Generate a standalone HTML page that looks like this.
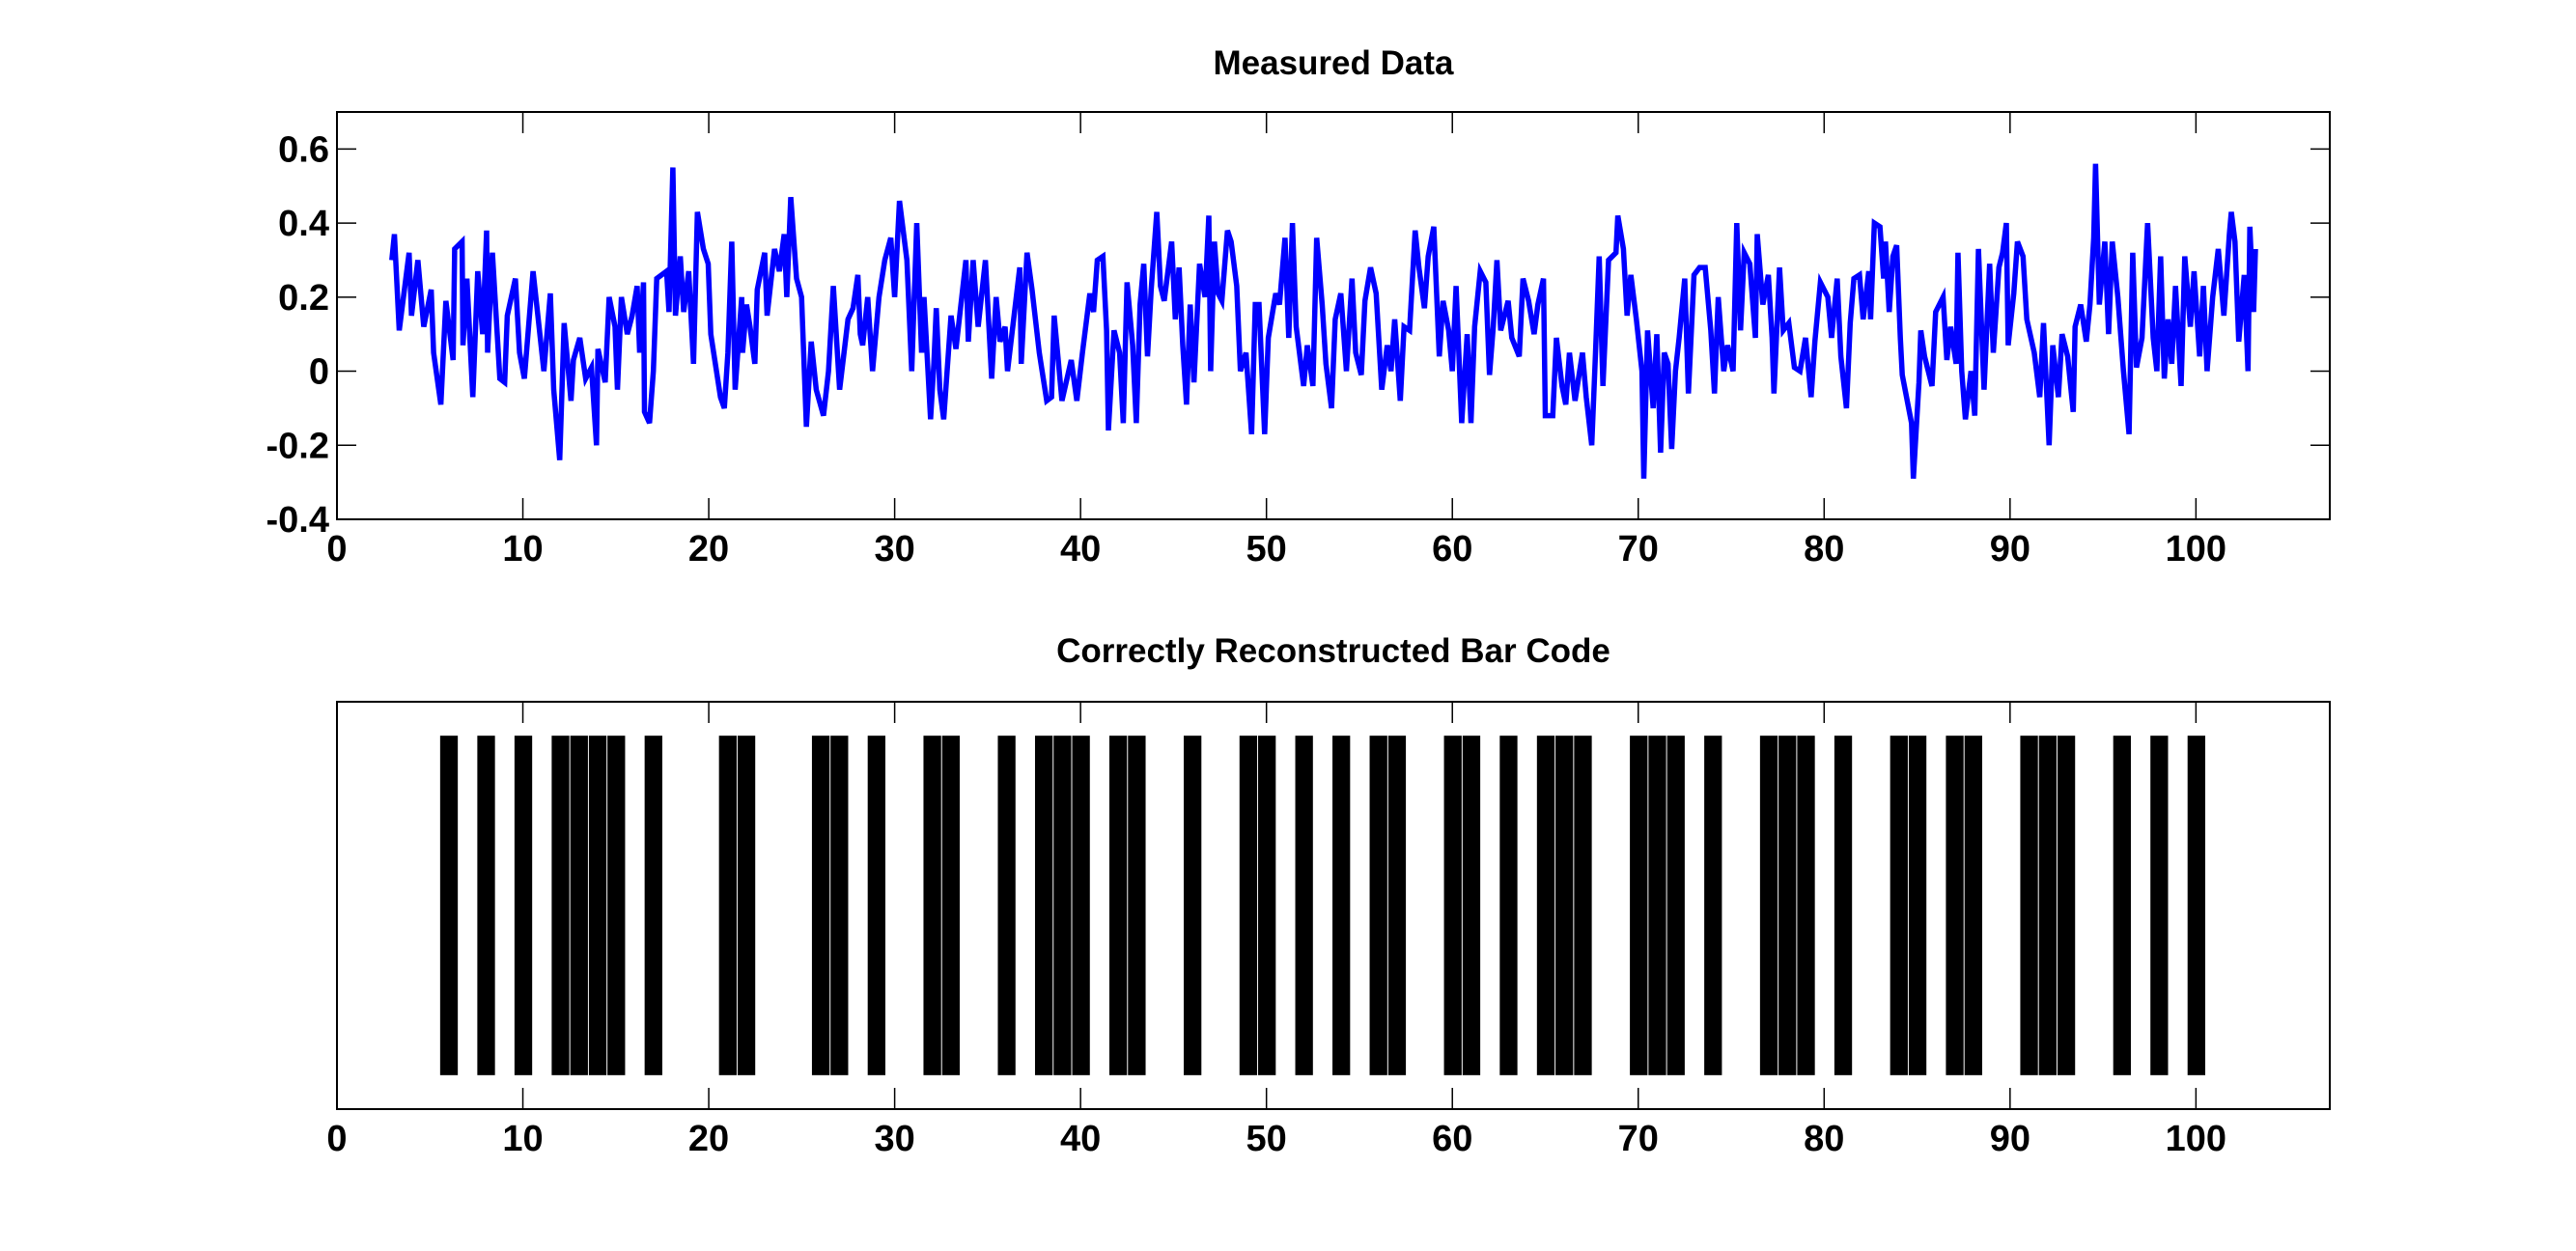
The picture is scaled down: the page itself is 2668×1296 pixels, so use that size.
<!DOCTYPE html>
<html><head><meta charset="utf-8"><style>
html,body{margin:0;padding:0;background:#fff;}
svg text{font-family:"Liberation Sans",Arial,sans-serif;font-weight:bold;fill:#000;}
</style></head><body>
<svg id="fig" width="2668" height="1291" viewBox="0 0 2668 1291" xmlns="http://www.w3.org/2000/svg">
<rect width="2668" height="1291" fill="#fff"/>
<g id="topPlot"></g>
<g id="botPlot"></g>
</svg>
<script>
const sigX=[2.95,3.09,3.35,3.88,4.01,4.35,4.67,5.07,5.2,5.59,5.86,6.25,6.33,6.73,6.78,6.99,7.31,7.57,7.84,8.05,8.1,8.36,8.76,9.02,9.16,9.6,9.82,10.08,10.55,11.13,11.48,11.66,11.98,12.22,12.59,12.72,13.06,13.38,13.69,13.96,14.04,14.43,14.64,14.96,15.09,15.3,15.62,15.88,16.15,16.28,16.49,16.54,16.81,17.02,17.2,17.73,17.86,18.07,18.21,18.47,18.65,18.92,19.18,19.39,19.71,19.97,20.11,20.63,20.84,21.03,21.24,21.42,21.77,21.82,22.03,22.22,22.48,22.61,23.01,23.14,23.54,23.8,24.06,24.2,24.41,24.72,24.99,25.25,25.51,25.78,26.17,26.44,26.7,27.04,27.49,27.76,28.02,28.15,28.28,28.55,28.81,29.16,29.47,29.79,30.0,30.26,30.66,30.92,31.19,31.45,31.58,31.93,32.11,32.24,32.43,32.64,33.03,33.3,33.83,33.96,34.22,34.49,34.88,35.22,35.46,35.67,35.94,36.07,36.73,36.81,37.12,37.39,37.78,38.18,38.44,38.58,
39.0,39.5,39.8,40.1,40.5,40.7,40.9,41.2,41.4,41.5,41.8,42.1,42.3,42.5,42.8,43.0,43.2,43.4,43.6,43.8,44.1,44.3,44.5,44.9,45.1,45.3,45.5,45.7,45.9,46.1,46.4,46.7,46.9,47.0,47.2,47.4,47.6,47.9,48.1,48.4,48.6,48.9,49.2,49.4,49.6,49.9,50.1,50.5,50.7,51.0,51.2,51.4,51.6,52.0,52.2,52.5,52.7,53.0,53.2,53.5,53.7,54.0,54.3,54.6,54.8,55.1,55.3,
55.6,55.9,56.2,56.5,56.7,56.9,57.2,57.4,57.7,58.0,58.2,58.5,58.7,59.0,59.3,59.5,59.8,60.0,60.2,60.5,60.8,61.0,61.2,61.5,61.8,62.0,62.2,62.4,62.6,63.0,63.2,63.6,63.8,64.1,64.4,64.6,64.9,65.0,65.4,65.6,65.9,66.1,66.3,66.6,67.0,67.2,67.5,67.7,67.9,68.1,68.4,68.8,68.9,69.2,69.4,69.6,69.9,70.2,70.3,70.5,70.8,71.0,71.2,71.4,71.6,71.8,72.0,72.2,72.5,72.7,73.0,73.3,73.6,73.9,74.1,74.3,74.6,74.8,75.1,75.3,75.5,75.7,76.0,76.3,76.4,76.7,77.0,77.2,77.3,77.6,77.8,78.1,78.4,78.7,79.0,79.3,79.5,79.8,80.2,80.4,80.7,80.9,81.2,81.4,81.6,
81.9,82.1,82.4,82.5,82.7,83.0,83.2,83.3,83.5,83.7,83.9,84.1,84.2,84.7,84.8,85.1,85.2,85.4,85.8,86.0,86.4,86.6,86.8,87.1,87.2,87.4,87.6,87.9,88.1,88.3,88.6,88.9,89.1,89.4,89.6,89.8,89.9,90.2,90.4,90.7,90.9,91.3,91.6,91.8,92.1,92.3,92.6,92.8,93.1,93.4,93.5,93.8,94.1,94.3,94.5,94.6,94.8,95.1,95.3,95.5,95.8,96.1,96.4,96.6,96.8,97.1,97.4,97.7,97.9,98.1,98.3,98.5,98.7,98.9,99.2,99.4,99.7,99.9,100.2,100.4,100.6,100.9,101.2,101.5,101.8,101.9,102.1,102.3,102.6,102.8,102.9,103.1,103.2];
const sigY=[0.30,0.37,0.11,0.32,0.15,0.30,0.12,0.22,0.05,-0.09,0.19,0.03,0.33,0.35,0.07,0.25,-0.07,0.27,0.10,0.38,0.05,0.32,-0.02,-0.03,0.15,0.25,0.05,-0.02,0.27,0.00,0.21,-0.05,-0.24,0.13,-0.08,0.03,0.09,-0.02,0.01,-0.20,0.06,-0.03,0.20,0.12,-0.05,0.20,0.10,0.15,0.23,0.05,0.24,-0.11,-0.14,0.00,0.25,0.27,0.16,0.55,0.15,0.31,0.16,0.27,0.02,0.43,0.33,0.29,0.10,-0.07,-0.10,0.05,0.35,-0.05,0.20,0.05,0.18,0.12,0.02,0.22,0.32,0.15,0.33,0.27,0.37,0.20,0.47,0.25,0.20,-0.15,0.08,-0.05,-0.12,0.00,0.23,-0.05,0.14,0.17,0.26,0.10,0.07,0.20,0.00,0.20,0.30,0.36,0.20,0.46,0.30,0.00,0.40,0.05,0.20,-0.13,0.02,0.17,-0.05,-0.13,0.15,0.06,0.30,0.08,0.30,0.12,0.30,-0.02,0.20,0.08,0.12,0.00,0.28,0.02,0.32,0.22,0.05,-0.08,-0.07,0.15,
-0.08,0.03,-0.08,0.05,0.21,0.16,0.30,0.31,0.11,-0.16,0.11,0.05,-0.14,0.24,0.07,-0.14,0.18,0.29,0.04,0.22,0.43,0.23,0.19,0.35,0.14,0.28,0.07,-0.09,0.18,-0.03,0.29,0.20,0.42,0.00,0.35,0.21,0.19,0.38,0.35,0.23,0.00,0.05,-0.17,0.18,0.18,-0.17,0.09,0.21,0.18,0.36,0.09,0.40,0.12,-0.04,0.07,-0.04,0.36,0.18,0.02,-0.10,0.14,0.21,0.00,0.25,0.05,-0.01,0.19,
0.28,0.21,-0.05,0.07,0.00,0.14,-0.08,0.12,0.11,0.38,0.28,0.17,0.31,0.39,0.04,0.19,0.11,0.00,0.23,-0.14,0.10,-0.14,0.12,0.27,0.24,-0.01,0.12,0.30,0.11,0.19,0.09,0.04,0.25,0.19,0.10,0.18,0.25,-0.12,-0.12,0.09,-0.04,-0.09,0.05,-0.08,0.05,-0.07,-0.20,0.05,0.31,-0.04,0.30,0.32,0.42,0.33,0.15,0.26,0.14,0.00,-0.29,0.11,-0.10,0.10,-0.22,0.05,0.02,-0.21,0.00,0.09,0.25,-0.06,0.26,0.28,0.28,0.11,-0.06,0.20,0.00,0.07,0.00,0.40,0.11,0.32,0.29,0.09,0.37,0.18,0.26,0.09,-0.06,0.28,0.11,0.13,0.01,0.00,0.09,-0.07,0.08,0.24,0.20,0.09,0.25,0.04,-0.10,0.13,0.25,
0.26,0.14,0.27,0.14,0.40,0.39,0.25,0.35,0.16,0.31,0.34,0.09,-0.01,-0.14,-0.29,-0.03,0.11,0.04,-0.04,0.16,0.20,0.03,0.12,0.02,0.32,0.00,-0.13,0.00,-0.12,0.33,-0.05,0.29,0.05,0.28,0.32,0.40,0.07,0.21,0.35,0.31,0.14,0.05,-0.07,0.13,-0.20,0.07,-0.07,0.10,0.04,-0.11,0.12,0.18,0.08,0.18,0.36,0.56,0.18,0.35,0.10,0.35,0.20,0.00,-0.17,0.32,0.01,0.09,0.40,0.09,0.00,0.31,-0.02,0.14,0.02,0.23,-0.04,0.31,0.12,0.27,0.04,0.23,0.00,0.20,0.33,0.15,0.37,0.43,0.35,0.08,0.26,0.00,0.39,0.16,0.33];
const barPos=[6,8,10,12,13,14,15,17,21,22,26,27,29,32,33,36,38,39,40,42,43,46,49,50,52,54,56,57,60,61,63,65,66,67,70,71,72,74,77,78,79,81,84,85,87,88,91,92,93,96,98,100];
const barVal=[1,1,1,1,1,1,1,1,1,1,1,1,1,1,1,1,1,1,1,1,1,1,1,1,1,1,1,1,1,1,1,1,1,1,1,1,1,1,1,1,1,1,1,1,1,1,1,1,1,1,1,1];
const xTicks=[0,10,20,30,40,50,60,70,80,90,100];
const yTicksTop=[-0.4,-0.2,0,0.2,0.4,0.6];
const yTickLabels=["-0.4","-0.2","0","0.2","0.4","0.6"];

const NS="http://www.w3.org/2000/svg";
const PL=349,PR=2413,XMIN=0,XMAX=107.2;
const sx=v=>PL+(v-XMIN)/(XMAX-XMIN)*(PR-PL);
const T1=116,B1=538,Y1MIN=-0.4,Y1MAX=0.7;
const sy1=v=>B1-(v-Y1MIN)/(Y1MAX-Y1MIN)*(B1-T1);
const T2=727,B2=1149,Y2MIN=-0.1,Y2MAX=1.1;
const sy2=v=>B2-(v-Y2MIN)/(Y2MAX-Y2MIN)*(B2-T2);
function mk(tag,attrs,parent){const e=document.createElementNS(NS,tag);for(const k in attrs)e.setAttribute(k,attrs[k]);parent.appendChild(e);return e;}
const gTop=document.getElementById('topPlot'),gBot=document.getElementById('botPlot');

let d='';
const nPts=Math.min(sigX.length,sigY.length);
for(let i=0;i<nPts;i++){d+=(i?'L':'M')+sx(sigX[i]).toFixed(1)+' '+sy1(sigY[i]).toFixed(1);}
const line=mk('path',{d:d,fill:'none',stroke:'#0000ff','stroke-width':5.5,'stroke-linejoin':'miter'},gTop);



const barG=mk('g',{},gBot);


for(let i=0;i<barPos.length;i++){
  const x0=sx(barPos[i]-0.45),x1=sx(barPos[i]+0.5);
  const r=mk('rect',{x:x0,y:sy2(barVal[i]),width:x1-x0,height:sy2(0)-sy2(barVal[i]),fill:'#000'},barG);
  
  
}

function axes(g,T,B,yt,sy,name){
  const box=mk('rect',{x:PL,y:T,width:PR-PL,height:B-T,fill:'none',stroke:'#000','stroke-width':2},g);
  
  
  for(const t of xTicks){
    const x=sx(t);
    mk('line',{x1:x,y1:B,x2:x,y2:B-22,stroke:'#000','stroke-width':1.5},g);
    mk('line',{x1:x,y1:T,x2:x,y2:T+22,stroke:'#000','stroke-width':1.5},g);
    const tx=mk('text',{x:x,y:B+43,'text-anchor':'middle','font-size':38},g);
    tx.textContent=t;
    
    
  }
  if(yt){
    yt.forEach((t,i)=>{
      const y=sy(t);
      mk('line',{x1:PL,y1:y,x2:PL+20,y2:y,stroke:'#000','stroke-width':1.5},g);
      mk('line',{x1:PR,y1:y,x2:PR-20,y2:y,stroke:'#000','stroke-width':1.5},g);
      const tx=mk('text',{x:PL-8,y:y+13,'text-anchor':'end','font-size':38},g);
      tx.textContent=yTickLabels[i];
      
      
    });
  }
}
axes(gTop,T1,B1,yTicksTop,sy1,'top');
axes(gBot,T2,B2,null,sy2,'bottom');

const t1=mk('text',{x:(PL+PR)/2,y:77,'text-anchor':'middle','font-size':35},gTop);
t1.textContent='Measured Data';


const t2=mk('text',{x:(PL+PR)/2,y:686,'text-anchor':'middle','font-size':35},gBot);
t2.textContent='Correctly Reconstructed Bar Code';


</script>
</body></html>
